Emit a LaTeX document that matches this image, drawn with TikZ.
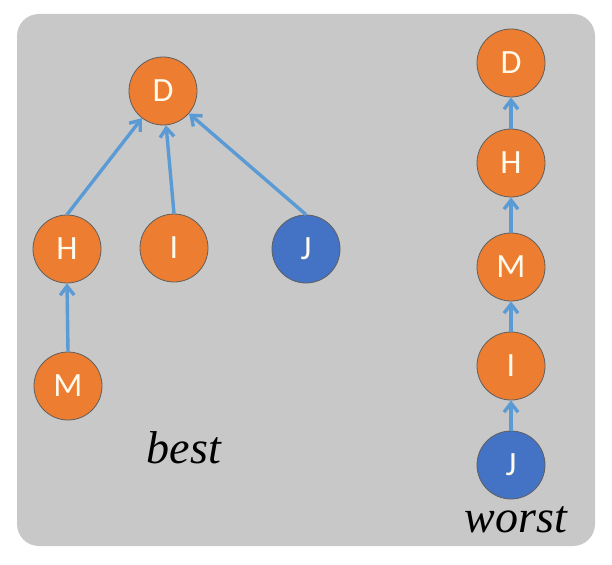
\documentclass[tikz,border=0pt]{standalone}
\usepackage{fontspec}
\setmainfont{Liberation Serif}
\newfontfamily\nodefont{Carlito}
\usetikzlibrary{arrows.meta}
\definecolor{bg}{RGB}{200,200,200}
\definecolor{nodeorange}{RGB}{237,125,49}
\definecolor{nodeblue}{RGB}{68,114,196}
\definecolor{edgeblue}{RGB}{91,155,213}
\definecolor{rimgray}{RGB}{95,95,95}
\definecolor{lettercol}{RGB}{255,250,235}
\begin{document}
\begin{tikzpicture}[x=1pt,y=-1pt,
  vtx/.style={circle,draw=rimgray,line width=0.8pt,minimum size=68pt,inner sep=0pt,text=lettercol,font=\nodefont\fontsize{34}{34}\selectfont},
  ov/.style={vtx,fill=nodeorange},
  bv/.style={vtx,fill=nodeblue},
  edge/.style={draw=edgeblue,line width=3.4pt,-{Straight Barb[length=9pt,width=14pt]}},
  lbl/.style={font=\itshape\fontsize{46}{46}\selectfont,anchor=base,inner sep=0pt}]
\useasboundingbox (0,0) rectangle (612,564);
\fill[white] (0,0) rectangle (612,564);
\fill[bg,rounded corners=22pt] (17,14) rectangle (595,546);
% best tree
\node[ov] (D1) at (163,91) {D};
\node[ov] (H1) at (67,249) {H};
\node[ov] (I1) at (174,248) {I};
\node[bv] (J1) at (306,249) {J};
\node[ov] (M1) at (68,386) {M};
\draw[edge] (H1.north) -- (D1);
\draw[edge] (I1.north) -- (D1);
\draw[edge] (J1.north) -- (D1);
\draw[edge] (M1.north) -- (H1.south);
% worst chain
\node[ov] (D2) at (511,63) {D};
\node[ov] (H2) at (511,163) {H};
\node[ov] (M2) at (511,267) {M};
\node[ov] (I2) at (511,366) {I};
\node[bv] (J2) at (511,465) {J};
\draw[edge] (H2.north) -- (D2.south);
\draw[edge] (M2.north) -- (H2.south);
\draw[edge] (I2.north) -- (M2.south);
\draw[edge] (J2.north) -- (I2.south);
% labels
\node[lbl] (best) at (184,463) {best};
\node[lbl] (worst) at (516,532) {worst};
\end{tikzpicture}
\end{document}
